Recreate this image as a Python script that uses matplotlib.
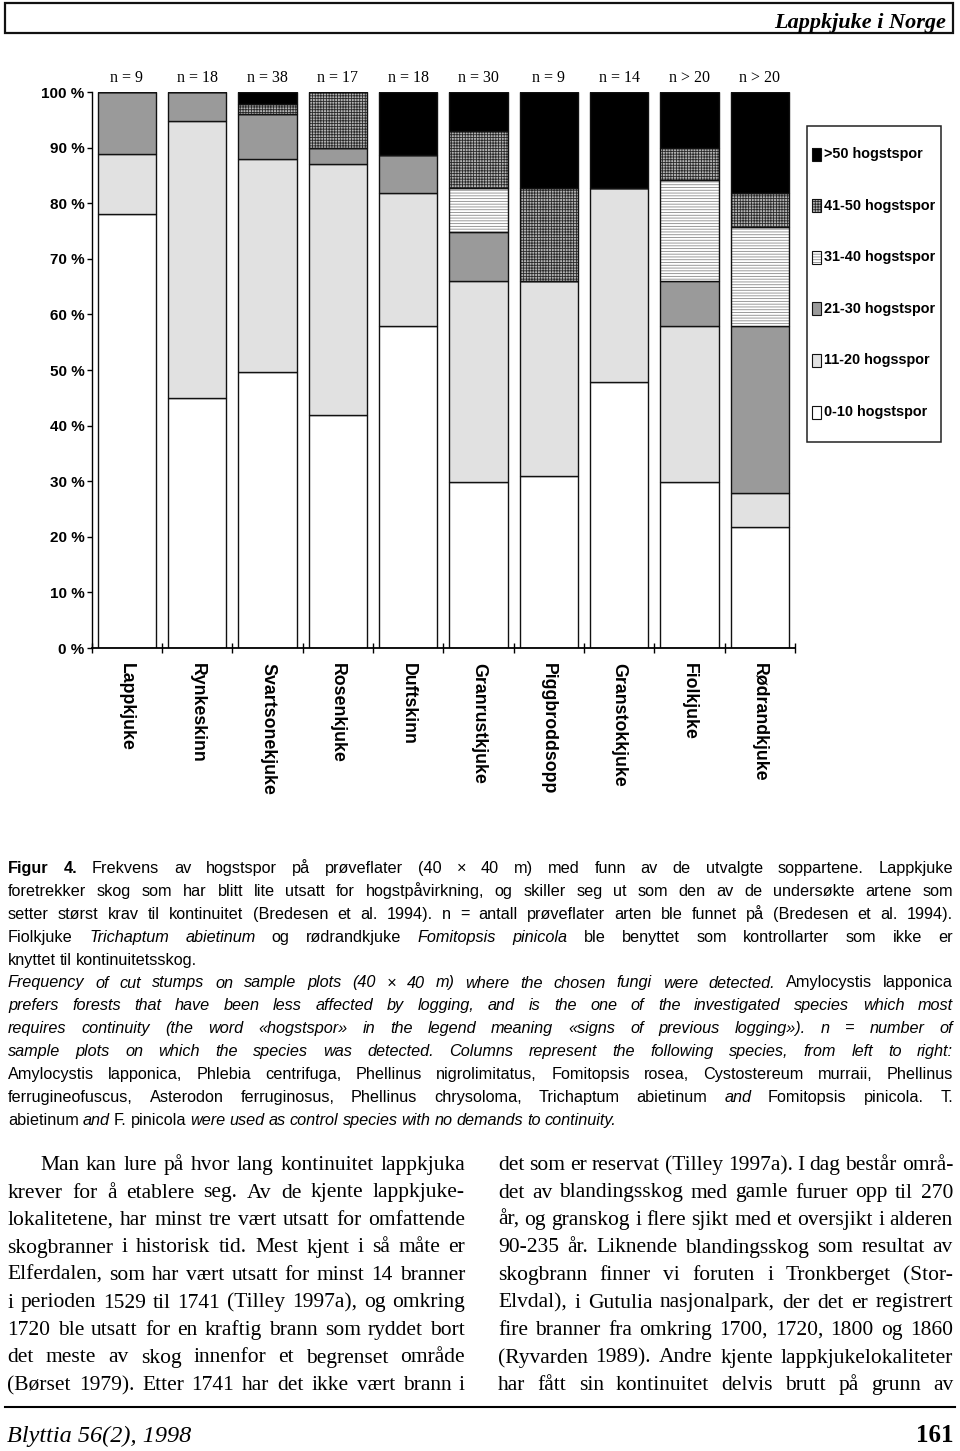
import matplotlib
matplotlib.use('Agg')
import matplotlib.pyplot as plt
from matplotlib import font_manager
from matplotlib.patches import Rectangle
import numpy as np

# chart data (percent of sample plots per class of cut stumps)
categories = ['Lappkjuke', 'Rynkeskinn', 'Svartsonekjuke', 'Rosenkjuke', 'Duftskinn',
              'Granrustkjuke', 'Piggbroddsopp', 'Granstokkjuke', 'Fiolkjuke', 'Rødrandkjuke']
n_labels = ['n = 9', 'n = 18', 'n = 38', 'n = 17', 'n = 18', 'n = 30', 'n = 9', 'n = 14', 'n > 20', 'n > 20']
seg_0_10 = [78.0, 44.9, 49.7, 41.9, 57.9, 29.9, 30.9, 47.9, 29.9, 21.8]
seg_11_20 = [10.8, 49.9, 38.2, 45.1, 24.0, 36.1, 35.1, 34.8, 28.0, 6.0]
seg_21_30 = [11.2, 5.2, 8.1, 3.0, 6.7, 8.9, 0.0, 0.0, 8.1, 30.1]
seg_31_40 = [0.0, 0.0, 0.0, 0.0, 0.0, 7.9, 0.0, 0.0, 18.1, 17.9]
seg_41_50 = [0.0, 0.0, 1.8, 10.0, 0.0, 10.2, 16.7, 0.0, 5.8, 6.0]
seg_over_50 = [0.0, 0.0, 2.2, 0.0, 11.4, 7.0, 17.3, 17.3, 10.1, 18.2]
legend_labels = ['0-10 hogstspor', '11-20 hogsspor', '21-30 hogstspor',
                 '31-40 hogstspor', '41-50 hogstspor', '>50 hogstspor']
y_ticks = [0, 10, 20, 30, 40, 50, 60, 70, 80, 90, 100]
y_tick_labels = ['0 %', '10 %', '20 %', '30 %', '40 %', '50 %', '60 %', '70 %', '80 %', '90 %', '100 %']

# page text; #...# = bold, _..._ = italic
caption_no = [
    '#Figur 4.# Frekvens av hogstspor på prøveflater (40 × 40 m) med funn av de utvalgte soppartene. Lappkjuke',
    'foretrekker skog som har blitt lite utsatt for hogstpåvirkning, og skiller seg ut som den av de undersøkte artene som',
    'setter størst krav til kontinuitet (Bredesen et al. 1994). n = antall prøveflater arten ble funnet på (Bredesen et al. 1994).',
    'Fiolkjuke _Trichaptum abietinum_ og rødrandkjuke _Fomitopsis pinicola_ ble benyttet som kontrollarter som ikke er',
    'knyttet til kontinuitetsskog.',
]
caption_en = [
    '_Frequency of cut stumps on sample plots (40 × 40 m) where the chosen fungi were detected._ Amylocystis lapponica',
    '_prefers forests that have been less affected by logging, and is the one of the investigated species which most_',
    '_requires continuity (the word «hogstspor» in the legend meaning «signs of previous logging»). n = number of_',
    '_sample plots on which the species was detected. Columns represent the following species, from left to right:_',
    'Amylocystis lapponica, Phlebia centrifuga, Phellinus nigrolimitatus, Fomitopsis rosea, Cystostereum murraii, Phellinus',
    'ferrugineofuscus, Asterodon ferruginosus, Phellinus chrysoloma, Trichaptum abietinum _and_ Fomitopsis pinicola. T.',
    'abietinum _and_ F. pinicola _were used as control species with no demands to continuity._',
]
left_column = [
    'Man kan lure på hvor lang kontinuitet lappkjuka',
    'krever for å etablere seg. Av de kjente lappkjuke-',
    'lokalitetene, har minst tre vært utsatt for omfattende',
    'skogbranner i historisk tid. Mest kjent i så måte er',
    'Elferdalen, som har vært utsatt for minst 14 branner',
    'i perioden 1529 til 1741 (Tilley 1997a), og omkring',
    '1720 ble utsatt for en kraftig brann som ryddet bort',
    'det meste av skog innenfor et begrenset område',
    '(Børset 1979). Etter 1741 har det ikke vært brann i',
]
right_column = [
    'det som er reservat (Tilley 1997a). I dag består områ-',
    'det av blandingsskog med gamle furuer opp til 270',
    'år, og granskog i flere sjikt med et oversjikt i alderen',
    '90-235 år. Liknende blandingsskog som resultat av',
    'skogbrann finner vi foruten i Tronkberget (Stor-',
    'Elvdal), i Gutulia nasjonalpark, der det er registrert',
    'fire branner fra omkring 1700, 1720, 1800 og 1860',
    '(Ryvarden 1989). Andre kjente lappkjukelokaliteter',
    'har fått sin kontinuitet delvis brutt på grunn av',
]

installed = {f.name for f in font_manager.fontManager.ttflist}
NARROW = 'Liberation Sans Narrow' in installed
SANS_N = 'Liberation Sans Narrow' if NARROW else 'Liberation Sans'
SANS = 'Liberation Sans'
SERIF = 'Liberation Serif'

plt.rcParams['hatch.linewidth'] = 0.6

W, H = 960, 1451
fig = plt.figure(figsize=(W / 100, H / 100), dpi=100)
page = fig.add_axes([0, 0, 1, 1])
page.set_xlim(0, W)
page.set_ylim(H, 0)
page.axis('off')

# ---- chart ----
ax = fig.add_axes([91.7 / W, 1 - 648 / H, (795 - 91.7) / W, (648 - 92) / H])
styles = [
    dict(face='white', hatch=None, hcol='white'),
    dict(face='#e1e1e1', hatch=None, hcol='#e1e1e1'),
    dict(face='#9a9a9a', hatch=None, hcol='#9a9a9a'),
    dict(face='white', hatch='------', hcol='#8a8a8a'),
    dict(face='#b4b4b4', hatch='++++++', hcol='#2a2a2a'),
    dict(face='black', hatch=None, hcol='black'),
]
series = [seg_0_10, seg_11_20, seg_21_30, seg_31_40, seg_41_50, seg_over_50]
x = np.arange(len(categories))
bottom = np.zeros(len(categories))
for vals, st in zip(series, styles):
    vals = np.array(vals)
    ax.bar(x, vals, 0.833, bottom=bottom, color=st['face'], hatch=st['hatch'],
           edgecolor=st['hcol'], linewidth=0)
    ax.bar(x, vals, 0.833, bottom=bottom, facecolor='none', edgecolor='#111111', linewidth=1.0)
    bottom += vals

for i, lab in enumerate(n_labels):
    ax.text(i, 102.6, lab, ha='center', va='center', family=SERIF, fontsize=11.5, clip_on=False)

ax.set_xlim(-0.5, 9.5)
ax.set_ylim(0, 100)
ax.set_yticks(y_ticks, y_tick_labels, family=SANS_N, fontweight='bold',
              fontsize=12.4 if NARROW else 11)
ax.tick_params(axis='y', direction='out', length=3.6, width=1, pad=1.5)
ax.set_xticks(x, categories, rotation=-90, family=SANS, fontweight='bold', fontsize=12.8)
ax.set_xticks(np.arange(-0.5, 10, 1), minor=True)
ax.tick_params(axis='x', which='major', length=0, pad=10.8)
ax.tick_params(axis='x', which='minor', direction='inout', length=7, width=1)
for s in ['top', 'right']:
    ax.spines[s].set_visible(False)
ax.spines['left'].set_linewidth(1.0)
ax.spines['bottom'].set_linewidth(1.3)

# legend box
page.add_patch(Rectangle((806.7, 125.7), 134, 316, fill=False, lw=1.1, edgecolor='#222222'))
for k in range(len(legend_labels)):
    j = len(legend_labels) - 1 - k
    yc = 154 + 51.6 * k
    st = styles[j]
    page.add_patch(Rectangle((812, yc - 6.5), 9, 13, facecolor=st['face'], hatch=st['hatch'],
                             edgecolor=st['hcol'], lw=0))
    page.add_patch(Rectangle((812, yc - 6.5), 9, 13, fill=False, edgecolor='#111111', lw=0.8))
    page.text(824, yc, legend_labels[j], va='center', ha='left', family=SANS_N, fontweight='bold',
              fontsize=12 if NARROW else 10.4)

# ---- header / footer ----
page.add_patch(Rectangle((5, 3), 948, 30, fill=False, lw=1.6, edgecolor='#111111'))
page.text(946, 28, 'Lappkjuke i Norge', ha='right', va='baseline', family=SERIF,
          fontstyle='italic', fontweight='bold', fontsize=16)
page.plot([5, 955], [1407.3, 1407.3], color='black', lw=1.5)
page.text(7, 1441.7, 'Blyttia 56(2), 1998', ha='left', va='baseline', family=SERIF,
          fontstyle='italic', fontsize=17.5)
page.text(953, 1441.7, '161', ha='right', va='baseline', family=SERIF, fontweight='bold', fontsize=18)

renderer = fig.canvas.get_renderer()


def word_runs(line):
    out = []
    bold = ital = False
    for w in line.split():
        if w.startswith('#'):
            bold = True
            w = w[1:]
        if w.startswith('_'):
            ital = True
            w = w[1:]
        b, it = bold, ital
        if w.endswith('#'):
            bold = False
            w = w[:-1]
        if w.endswith('_'):
            ital = False
            w = w[:-1]
        out.append((w, b, it))
    return out


def make_words(line, y, family, size):
    texts = [page.text(0, y, w, family=family, fontsize=size,
                       fontweight='bold' if b else 'normal',
                       fontstyle='italic' if it else 'normal', va='baseline')
             for w, b, it in word_runs(line)]
    widths = [t.get_window_extent(renderer).width for t in texts]
    return texts, widths


def fit_size(lines, spans, family, size, min_gap_em=0.24):
    # largest common size at which every line still fits its span
    factor = 1.0
    for line, (x0, x1) in zip(lines, spans):
        texts, widths = make_words(line, 0, family, size)
        need = sum(widths) + (len(texts) - 1) * min_gap_em * size * 100 / 72
        factor = min(factor, (x1 - x0) / need)
        for t in texts:
            t.remove()
    return size * factor


def set_line(line, x0, x1, y, family, size, justify=True, space_em=0.26):
    texts, widths = make_words(line, y, family, size)
    gap = space_em * size * 100 / 72
    if justify and len(texts) > 1:
        gap = (x1 - x0 - sum(widths)) / (len(texts) - 1)
    xp = x0
    for t, w in zip(texts, widths):
        t.set_x(xp)
        xp += w + gap


# caption paragraphs: justified, last line of each ragged
row = 0
for para in [caption_no, caption_en]:
    size = fit_size(para[:-1], [(8, 953)] * (len(para) - 1), SANS_N, 11.7)
    for i, line in enumerate(para):
        set_line(line, 8, 953, 873 + 22.9 * row, SANS_N, size,
                 justify=i < len(para) - 1, space_em=0.25)
        row += 1

left_spans = [(40, 465)] + [(7.5, 465)] * (len(left_column) - 1)
right_spans = [(498, 953)] * len(right_column)
body_size = fit_size(left_column + right_column, left_spans + right_spans, SERIF, 15.5, 0.2)
for i, line in enumerate(left_column):
    x0, x1 = left_spans[i]
    set_line(line, x0, x1, 1170 + 27.5 * i, SERIF, body_size)
for i, line in enumerate(right_column):
    x0, x1 = right_spans[i]
    set_line(line, x0, x1, 1170 + 27.5 * i, SERIF, body_size)

fig.savefig('out.png', dpi=100)
